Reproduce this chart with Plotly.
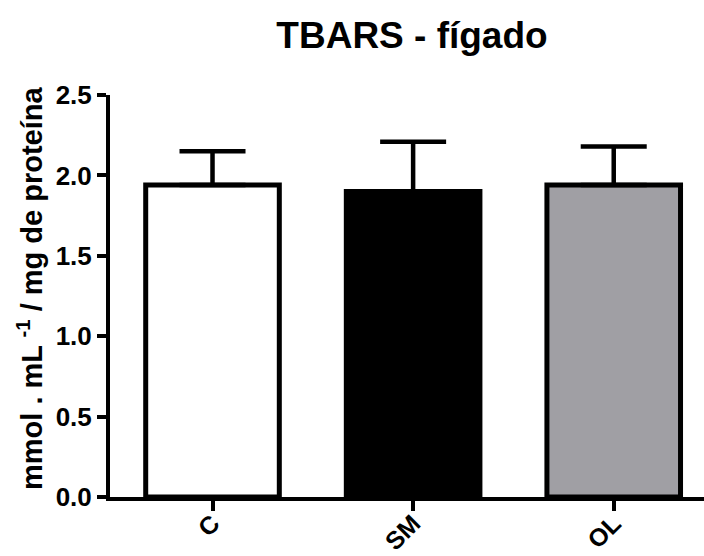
import plotly.graph_objects as go

# TBARS in liver per group: mean and upper SEM
groups = ["C", "SM", "OL"]
means = [1.94, 1.90, 1.94]
errors = [0.21, 0.31, 0.24]
fill_colors = ["#FFFFFF", "#000000", "#A09FA4"]

FONT = "Liberation Sans, Arial, sans-serif"

# plot area in pixels
L, R, T, B = 110, 0, 95, 59
W, H = 704, 556
PW, PH = W - L - R, H - T - B

fig = go.Figure()
fig.add_trace(go.Bar(
    x=groups,
    y=means,
    width=0.666,
    marker=dict(color=fill_colors, line=dict(color="#000000", width=5)),
    error_y=dict(
        type="data",
        symmetric=False,
        array=errors,
        arrayminus=[0, 0, 0],
        color="#000000",
        thickness=4.5,
        width=33,
    ),
))

fig.update_layout(
    width=W,
    height=H,
    margin=dict(l=L, r=R, t=T, b=B, autoexpand=False),
    paper_bgcolor="white",
    plot_bgcolor="white",
    showlegend=False,
    font=dict(family=FONT, color="#000000"),
    title=dict(
        text="<b>TBARS - fígado</b>",
        font=dict(family=FONT, size=37, color="#000000"),
        x=412 / W,
        xanchor="center",
        xref="container",
        y=1 - 35 / H,
        yanchor="middle",
        yref="container",
    ),
)

fig.update_xaxes(
    range=[-0.511, 2.45],
    automargin=False,
    showline=True,
    linecolor="#000000",
    linewidth=4,
    ticks="outside",
    ticklen=10,
    tickwidth=4,
    tickcolor="#000000",
    tickangle=-45,
    ticklabelstandoff=-12,
    tickfont=dict(family=FONT, size=25, color="#000000", weight="bold"),
    showgrid=False,
    zeroline=False,
)

fig.update_yaxes(
    range=[0, 2.5],
    automargin=False,
    tickvals=[0, 0.5, 1.0, 1.5, 2.0, 2.5],
    ticktext=["0.0", "0.5", "1.0", "1.5", "2.0", "2.5"],
    showline=True,
    linecolor="#000000",
    linewidth=4,
    ticks="outside",
    ticklen=9,
    tickwidth=4,
    tickcolor="#000000",
    tickfont=dict(family=FONT, size=26, color="#000000", weight="bold"),
    showgrid=False,
    zeroline=False,
)

fig.add_annotation(
    text="<b>mmol . mL <sup>-1</sup> / mg de proteína</b>",
    textangle=-90,
    xref="paper",
    yref="paper",
    x=(30 - L) / PW,
    y=(H - B - 288) / PH,
    xanchor="center",
    yanchor="middle",
    showarrow=False,
    font=dict(family=FONT, size=29, color="#000000"),
)

fig.write_html("out.html")
